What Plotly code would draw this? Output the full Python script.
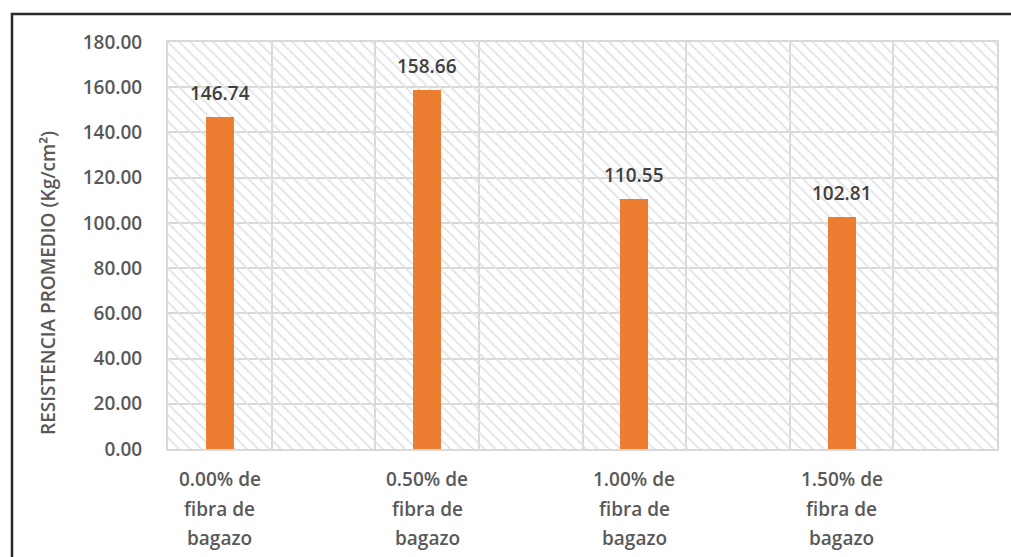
import plotly.graph_objects as go

categories = ["0.00% de<br>fibra de<br>bagazo", "0.50% de<br>fibra de<br>bagazo",
              "1.00% de<br>fibra de<br>bagazo", "1.50% de<br>fibra de<br>bagazo"]
values = [146.74, 158.66, 110.55, 102.81]
slots = [0, 2, 4, 6]          # category slot of each bar (8 slots, every other one empty)
y_ticks = [0, 20, 40, 60, 80, 100, 120, 140, 160, 180]
y_title = "RESISTENCIA PROMEDIO (Kg/cm²)"

FONT = "Open Sans"
GRID = "#d9d9d9"
TXT = "#595959"

fig = go.Figure()

# hatched plot background
fig.add_trace(go.Bar(
    x=[3.5], y=[y_ticks[-1]], width=[8],
    marker=dict(color="#e2e2e2", line=dict(width=0),
                pattern=dict(shape="\\", size=8, solidity=0.22, fillmode="replace")),
    hoverinfo="skip", showlegend=False,
))

fig.add_trace(go.Bar(
    x=slots, y=values, width=0.27,
    marker=dict(color="#ED7D31", line=dict(width=0)),
    showlegend=False,
))

annotations = []
for xs, v in zip(slots, values):
    annotations.append(dict(
        x=xs, y=v, xref="x", yref="y", text=f"{v:.2f}", showarrow=False,
        yanchor="middle", yshift=24,
        font=dict(family=FONT, size=19, color="#404040", weight=600),
    ))

line_px = [479, 509, 538]
for xs, lab in zip(slots, categories):
    for i, part in enumerate(lab.split("<br>")):
        annotations.append(dict(
            x=xs, y=(449 - line_px[i]) / 407, xref="x", yref="paper", text=part,
            showarrow=False, yanchor="middle",
            font=dict(family=FONT, size=19, color=TXT, weight=600),
        ))

annotations.append(dict(
    x=(48 - 168) / 829, y=(449 - 283) / 407, xref="paper", yref="paper",
    text=y_title, textangle=-90, showarrow=False, xanchor="center", yanchor="middle",
    font=dict(family=FONT, size=19, color=TXT, weight=600),
))

fig.update_layout(
    width=1011, height=557,
    margin=dict(l=168, r=14, t=42, b=108),
    paper_bgcolor="white", plot_bgcolor="white",
    barmode="overlay", bargap=0,
    annotations=annotations,
    shapes=[dict(type="rect", xref="paper", yref="paper",
                 x0=(12 - 168) / 829, x1=1.03, y0=-0.3, y1=(449 - 14) / 407,
                 line=dict(color="#2b2b2b", width=2.5), fillcolor="rgba(0,0,0,0)")],
)

fig.update_xaxes(
    range=[-0.5, 7.5], tickmode="array",
    tickvals=[s - 0.5 for s in range(9)], showticklabels=False,
    showgrid=True, gridcolor=GRID, gridwidth=2,
    showline=True, linecolor=GRID, linewidth=2, mirror=True, zeroline=False, ticks="",
)
fig.update_yaxes(
    range=[0, 180], tickmode="array", tickvals=y_ticks,
    ticktext=[f"{t:.2f}" for t in y_ticks],
    showgrid=True, gridcolor=GRID, gridwidth=2,
    showline=True, linecolor=GRID, linewidth=2, mirror=True, zeroline=False,
    ticks="outside", ticklen=20, tickcolor="rgba(0,0,0,0)",
    tickfont=dict(family=FONT, size=19, color=TXT, weight=600),
)

fig.write_html("out.html")
